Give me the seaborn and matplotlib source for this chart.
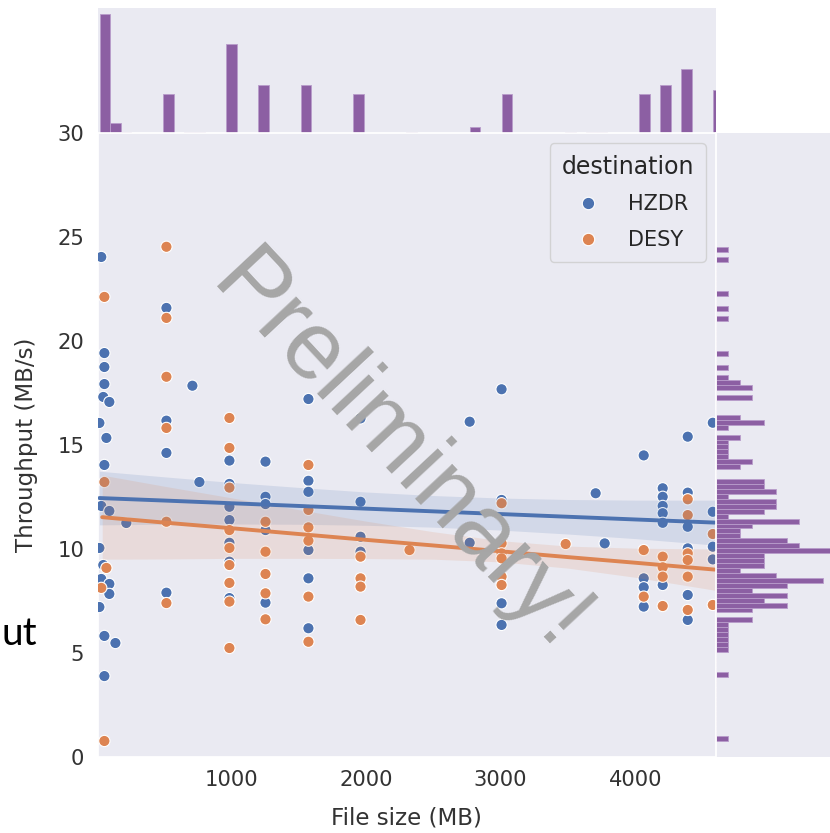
import numpy as np
import pandas as pd
import matplotlib
matplotlib.use("Agg")
import matplotlib.pyplot as plt
import seaborn as sns

# ---------------- data ----------------
hzdr_size = [33, 56, 56, 56, 48, 93, 19, 71, 56, 33, 93, 219, 19, 48, 33, 93, 93, 19, 56, 138, 56,
             517, 517, 517, 517, 710, 762,
             985, 985, 985, 985, 985, 985, 985,
             1253, 1253, 1253, 1253, 1253,
             1572, 1572, 1572, 1572, 1572, 1572,
             1959, 1959, 1959, 1959,
             2770, 2770,
             3007, 3007, 3007, 3007,
             3706, 3773,
             4063, 4063, 4063, 4063,
             4204, 4204, 4204, 4204, 4204, 4204,
             4390, 4390, 4390, 4390, 4390, 4390, 4390,
             4576, 4576, 4576, 4576]
hzdr_tp = [24.04, 19.42, 18.75, 17.93, 17.31, 17.07, 16.06, 15.34, 14.04, 12.07, 11.83, 11.25, 10.05, 9.23, 8.56, 8.32, 7.84, 7.21, 5.82, 5.48, 3.89,
           21.59, 16.17, 14.62, 7.90, 17.85, 13.22,
           14.25, 13.13, 12.03, 11.39, 10.30, 9.39, 7.64,
           14.20, 12.51, 12.16, 10.91, 7.42,
           17.21, 13.28, 12.75, 9.95, 8.59, 6.19,
           16.28, 12.27, 10.59, 9.87,
           16.12, 10.30,
           17.68, 12.36, 7.39, 6.35,
           12.68, 10.27,
           14.50, 8.59, 8.16, 7.23,
           12.92, 12.51, 12.07, 11.72, 11.26, 8.27,
           15.40, 12.71, 11.26, 11.07, 10.03, 7.79, 6.59,
           16.07, 11.79, 10.11, 9.50]

desy_size = [56, 56, 71, 33, 56,
             517, 517, 517, 517, 517, 517,
             985, 985, 985, 985, 985, 985, 985, 985, 985,
             1253, 1253, 1253, 1253, 1253,
             1572, 1572, 1572, 1572, 1572, 1572,
             1959, 1959, 1959, 1959,
             2323,
             3007, 3007, 3007, 3007, 3007, 3007,
             3483,
             4063, 4063,
             4204, 4204, 4204, 4204,
             4390, 4390, 4390, 4390, 4390, 4390,
             4576, 4576]
desy_tp = [22.12, 13.22, 9.09, 8.13, 0.77,
           24.53, 21.11, 18.28, 15.82, 11.31, 7.40,
           16.30, 14.86, 12.95, 10.91, 10.05, 9.23, 8.37, 7.47, 5.24,
           11.31, 9.87, 8.80, 7.87, 6.62,
           14.04, 11.88, 11.04, 10.40, 7.71, 5.54,
           9.63, 8.59, 8.19, 6.59,
           9.95,
           12.20, 10.27, 9.79, 9.55, 8.67, 8.27,
           10.24,
           9.95, 7.71,
           9.63, 9.12, 8.67, 7.26,
           12.39, 11.63, 9.79, 9.47, 8.67, 7.07,
           10.72, 7.31]

destinations = ["HZDR", "DESY"]

# fitted regression lines and confidence bands
fit_x_hzdr = [19, 500, 1000, 1500, 2000, 2500, 3000, 3500, 4000, 4590]
fit_y_hzdr = [12.45, 12.33, 12.20, 12.07, 11.94, 11.81, 11.68, 11.55, 11.42, 11.27]
ci_lo_hzdr = [11.16, 11.19, 11.20, 11.19, 11.14, 11.05, 10.91, 10.72, 10.50, 10.19]
ci_hi_hzdr = [13.74, 13.47, 13.20, 12.96, 12.74, 12.57, 12.45, 12.38, 12.35, 12.35]
fit_x_desy = [40, 500, 1000, 1500, 2000, 2500, 3000, 3500, 4000, 4590]
fit_y_desy = [11.53, 11.27, 11.00, 10.72, 10.44, 10.17, 9.89, 9.61, 9.34, 9.01]
ci_lo_desy = [9.51, 9.52, 9.55, 9.55, 9.54, 9.51, 9.38, 9.08, 8.64, 8.02]
ci_hi_desy = [13.55, 13.02, 12.46, 11.89, 11.34, 10.83, 10.40, 10.14, 10.04, 10.00]

# marginal histogram of file size: bin centers (MB) and counts
top_sizes = [59, 138, 216, 531, 688, 767, 1002, 1238, 1552, 1946, 2339, 2810, 3046,
             3518, 3675, 3754, 4068, 4225, 4382, 4618]
top_counts = [80, 7, 1, 26, 1, 1, 60, 32, 32, 26, 1, 4, 26, 1, 1, 1, 26, 32, 43, 29]

# marginal histogram of throughput: bin centers (MB/s) and counts
tp_centers = [0.89, 3.98, 5.17, 5.40, 5.64, 5.88, 6.12, 6.35, 6.59, 7.07, 7.30, 7.54, 7.78,
              8.02, 8.26, 8.49, 8.73, 8.97, 9.20, 9.44, 9.68, 9.92, 10.15, 10.39, 10.63,
              10.87, 11.11, 11.34, 11.58, 11.82, 12.06, 12.29, 12.53, 12.77, 13.01, 13.24,
              13.96, 14.19, 14.43, 14.67, 14.91, 15.15, 15.38, 15.86, 16.10, 16.33, 17.28,
              17.76, 17.99, 18.23, 18.71, 19.42, 21.08, 21.56, 22.27, 23.94, 24.41]
tp_counts = [1, 1, 1, 1, 1, 1, 1, 1, 3, 3, 6, 4, 6,
             3, 6, 9, 5, 2, 4, 4, 4, 10, 7, 6, 2,
             2, 3, 7, 1, 4, 5, 5, 1, 5, 4, 4,
             2, 3, 1, 1, 1, 1, 2, 1, 4, 2, 3,
             3, 2, 1, 1, 1, 1, 1, 1, 1, 1]

x_ticks = [1000, 2000, 3000, 4000]
y_ticks = [0, 5, 10, 15, 20, 25, 30]

# ---------------- plotting ----------------
blue = "#4C72B0"
orange = "#DD8452"
purple = "#8C5FA3"

sns.set_theme(style="dark", font_scale=1.38)

df = pd.DataFrame({
    "File size (MB)": hzdr_size + desy_size,
    "Throughput (MB/s)": hzdr_tp + desy_tp,
    "destination": ["HZDR"] * len(hzdr_size) + ["DESY"] * len(desy_size),
})

g = sns.JointGrid(height=8, ratio=5, space=0)
fig = g.figure
fig.set_size_inches(8.30, 8.33)
W, H = 830.0, 833.0
ax = g.ax_joint
ax.set_position([97.5 / W, 76 / H, 618.5 / W, 624 / H])
g.ax_marg_x.set_position([97.5 / W, 76 / H + 624 / H, 618.5 / W, 125 / H])
g.ax_marg_y.set_position([716 / W, 76 / H, 125 / W, 624 / H])

sns.scatterplot(data=df, x="File size (MB)", y="Throughput (MB/s)", hue="destination",
                hue_order=destinations, palette=[blue, orange], s=66,
                edgecolor="white", linewidth=0.8, ax=ax, zorder=3)

for fx, fy, lo, hi, col in [(fit_x_hzdr, fit_y_hzdr, ci_lo_hzdr, ci_hi_hzdr, blue),
                            (fit_x_desy, fit_y_desy, ci_lo_desy, ci_hi_desy, orange)]:
    ax.fill_between(fx, lo, hi, color=col, alpha=0.15, linewidth=0, zorder=4)
    sns.lineplot(x=fx, y=fy, color=col, linewidth=2.8, ax=ax, zorder=5, legend=False)

sns.histplot(x=top_sizes, weights=top_counts, binwidth=78.6, binrange=(20, 20 + 59 * 78.6),
             color=purple, alpha=1, edgecolor="#b89ccb", linewidth=0.6, ax=g.ax_marg_x)
sns.histplot(y=tp_centers, weights=tp_counts, binwidth=0.2376, binrange=(0.77, 0.77 + 100 * 0.2376),
             color=purple, alpha=1, edgecolor="#b89ccb", linewidth=0.6, ax=g.ax_marg_y)

ax.set_xlim(5, 4600)
ax.set_ylim(0, 30)
ax.set_xticks(x_ticks)
ax.set_yticks(y_ticks)
ax.set_xlabel("File size (MB)", labelpad=12, color="#333333")
ax.set_ylabel("Throughput (MB/s)", labelpad=14, color="#333333")
ax.tick_params(colors="#333333", labelcolor="#333333")
g.ax_marg_x.set_xlabel("")
g.ax_marg_x.set_ylabel("")
g.ax_marg_y.set_xlabel("")
g.ax_marg_y.set_ylabel("")
plt.setp(g.ax_marg_x.get_xticklabels(), visible=False)
plt.setp(g.ax_marg_x.get_yticklabels(), visible=False)
plt.setp(g.ax_marg_y.get_xticklabels(), visible=False)
plt.setp(g.ax_marg_y.get_yticklabels(), visible=False)

sns.move_legend(ax, "upper right", title="destination", labelspacing=0.75,
                title_fontsize=17, fontsize=15, borderpad=0.55, handletextpad=0.9,
                markerscale=1.1)

# watermark and slide remnant
fig.text(380 / W, 1 - 470 / H, "Preliminary!", rotation=-47, rotation_mode="anchor",
         ha="center", va="baseline", fontsize=69, color="#a6a6a6",
         family="Liberation Sans", zorder=10)
fig.text(37 / W, 1 - 645 / H, "ut", ha="right", va="baseline", fontsize=28,
         color="black", family="Lato")

fig.savefig("out.png", dpi=100)
